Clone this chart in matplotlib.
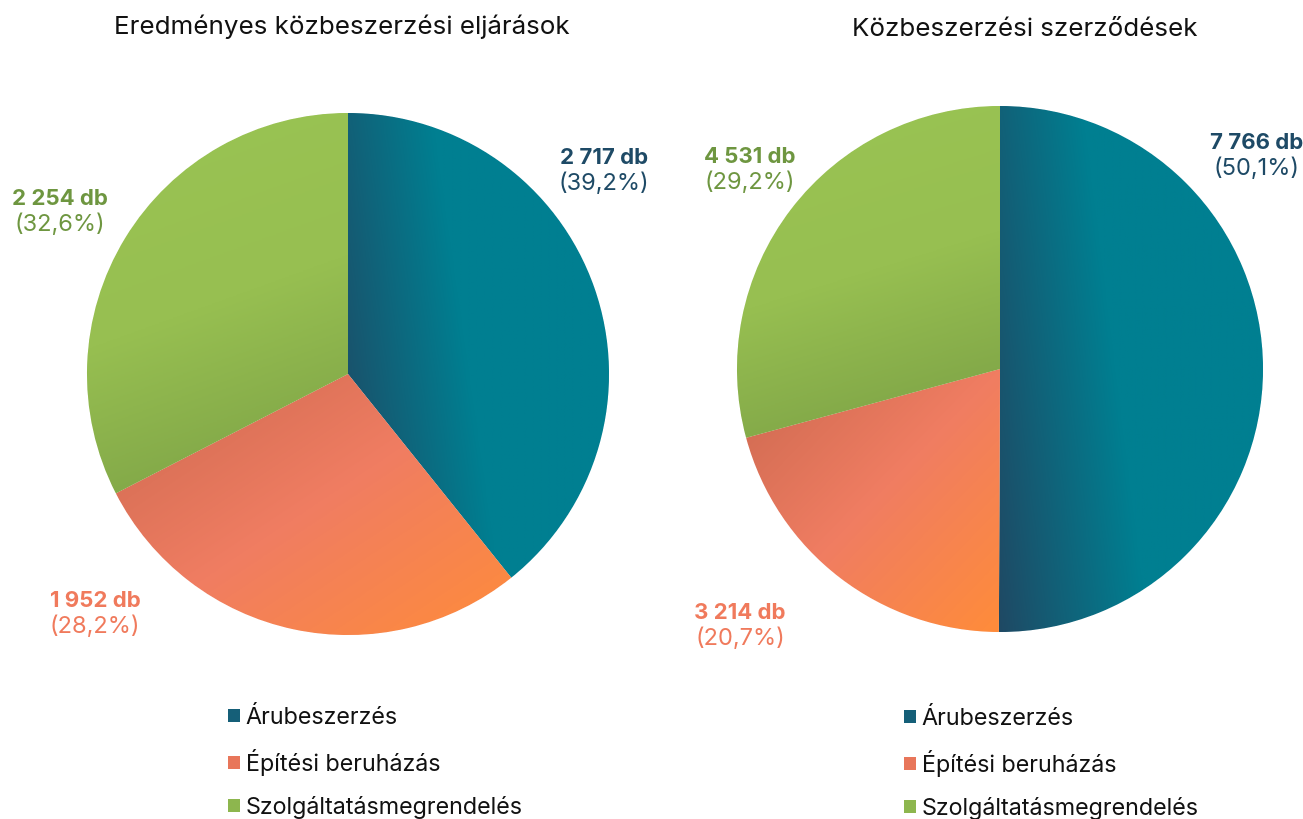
"""Two gradient pie charts: public procurement procedures vs. contracts."""
import matplotlib.pyplot as plt
import numpy as np
from matplotlib.colors import LinearSegmentedColormap
from matplotlib.patches import Patch

plt.rcParams["font.family"] = ["Inter", "DejaVu Sans"]

CATEGORIES = ["Árubeszerzés", "Építési beruházás", "Szolgáltatásmegrendelés"]
TITLES = ["Eredményes közbeszerzési eljárások", "Közbeszerzési szerződések"]
COUNTS = [
    [2717, 1952, 2254],
    [7766, 3214, 4531],
]
COUNT_LABELS = [
    ["2 717 db", "1 952 db", "2 254 db"],
    ["7 766 db", "3 214 db", "4 531 db"],
]
PCT_LABELS = [
    ["(39,2%)", "(28,2%)", "(32,6%)"],
    ["(50,1%)", "(20,7%)", "(29,2%)"],
]

W, H = 1303, 819
# layout in pixels
PIE_BOX = [(87, 113, 522), (737, 106, 526)]          # left, top, size
TITLE_POS = [(342, 27), (1025, 29)]
LABEL_POS = [
    [(604, 158), (95, 601), (60, 199)],
    [(1257, 143), (740, 613), (750, 157)],
]
LEGEND_POS = [(228, 707), (904, 708)]

TEXT_COLORS = ["#1E4A66", "#F07A5C", "#6E9640"]
FLAT_COLORS = ["#0A6E84", "#EE7A5E", "#93BC50"]
CMAPS = [
    LinearSegmentedColormap.from_list(
        "teal", [(0, "#1F4964"), (0.45, "#007F91"), (1, "#007F91")]),
    LinearSegmentedColormap.from_list(
        "orange", [(0, "#CC6950"), (0.5, "#F07D62"), (1, "#FF8C3A")]),
    LinearSegmentedColormap.from_list(
        "green", [(0, "#9AC453"), (0.5, "#97BF51"), (1, "#7A9F45")]),
]


def px(x, y):
    return x / W, 1 - y / H


def gradient_param(kind, xn, yn):
    if kind == 0:
        return 0.8 * xn + 0.2 * yn
    if kind == 1:
        return 0.5 * xn + 0.5 * (1 - yn)
    return 0.8 * (1 - yn) + 0.2 * xn


fig = plt.figure(figsize=(W / 100, H / 100), dpi=100)

for i in range(2):
    left, top, size = PIE_BOX[i]
    x0, y0 = px(left, top + size)
    ax = fig.add_axes([x0, y0, size / W, size / H])
    wedges, _ = ax.pie(COUNTS[i], colors=FLAT_COLORS, startangle=90,
                       counterclock=False, radius=1,
                       wedgeprops=dict(linewidth=0.6, edgecolor="white"))
    ax.set_xlim(-1, 1)
    ax.set_ylim(-1, 1)
    ax.set_aspect("equal")
    ax.axis("off")

    # gradient fill per wedge, clipped to the wedge shape
    for k, w in enumerate(wedges):
        verts = w.get_path().vertices
        bx0, by0 = verts.min(axis=0)
        bx1, by1 = verts.max(axis=0)
        gx = np.linspace(bx0, bx1, 300)
        gy = np.linspace(by0, by1, 300)
        xx, yy = np.meshgrid((gx - bx0) / (bx1 - bx0), (gy - by0) / (by1 - by0))
        s = np.clip(gradient_param(k, xx, yy), 0, 1)
        img = ax.imshow(CMAPS[k](s), extent=[bx0, bx1, by0, by1],
                        origin="lower", interpolation="bilinear", zorder=2)
        img.set_clip_path(w)
        ax.set_xlim(-1, 1)
        ax.set_ylim(-1, 1)

    tx, ty = px(*TITLE_POS[i])
    fig.text(tx, ty, TITLES[i], ha="center", va="center", fontsize=18.7,
             color="#111111")

    for k in range(3):
        lx, ly = LABEL_POS[i][k]
        fig.text(*px(lx, ly), COUNT_LABELS[i][k], ha="center", va="center",
                 fontsize=16, fontweight="bold", color=TEXT_COLORS[k])
        fig.text(*px(lx, ly + 26), PCT_LABELS[i][k], ha="center", va="center",
                 fontsize=17, color=TEXT_COLORS[k])

    handles = [Patch(facecolor=c, edgecolor="none") for c in
               ["#155F78", "#E8765A", "#8DB64E"]]
    fig.legend(handles, CATEGORIES, loc="upper left",
               bbox_to_anchor=px(*LEGEND_POS[i]), frameon=False,
               fontsize=16.8, handlelength=0.5, handleheight=0.5,
               handletextpad=0.25, labelspacing=0.85, borderaxespad=0,
               borderpad=0, labelcolor="#111111")

fig.savefig("out.png", dpi=100)
